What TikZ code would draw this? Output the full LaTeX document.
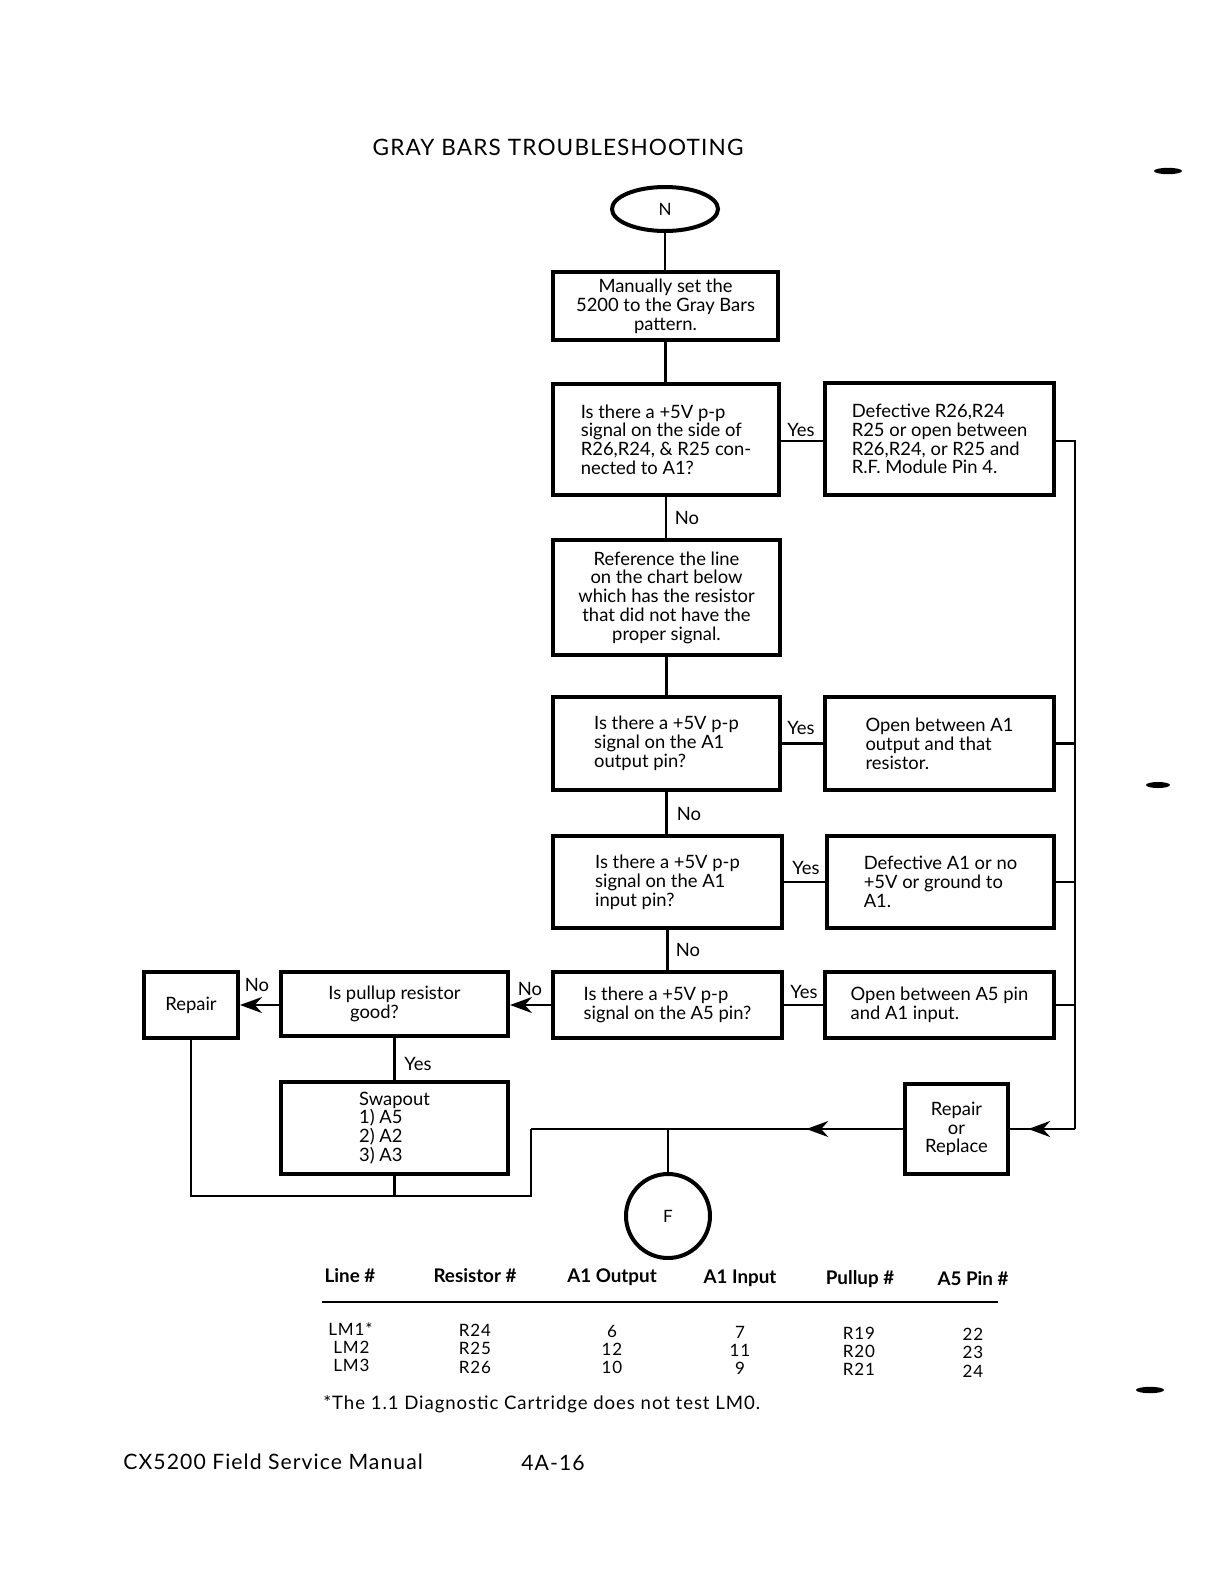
\documentclass[tikz,border=0pt]{standalone}
\usepackage{fontspec}
\setmainfont{Lato}
\newfontfamily\widefont[LetterSpace=5.0]{Lato}
\usetikzlibrary{arrows.meta,decorations.markings,shapes.geometric}
\begin{document}
\begin{tikzpicture}[x=0.5pt,y=-0.5pt,
  box/.style={draw, line width=2pt, inner sep=0pt, align=left, font=\fontsize{9.2}{9.4}\selectfont},
  conn/.style={line width=1.1pt},
  tipst/.style={-{Stealth[length=11pt,width=8pt]}},
  midarr/.style={postaction={decorate}, decoration={markings, mark=at position #1 with {\arrow{Stealth[length=11pt,width=8pt]}}}},
  lbl/.style={font=\fontsize{9.2}{10}\selectfont, inner sep=0pt},
  thead/.style={font=\fontsize{9.4}{10}\selectfont\bfseries, inner sep=0pt},
  tcell/.style={font=\widefont\fontsize{8.5}{10}\selectfont, inner sep=0pt},
  blob/.style={fill=black, draw=none}
]
\useasboundingbox (0,0) rectangle (1218,1570);

% title
\node[inner sep=0pt, font=\widefont\fontsize{11.3}{13}\selectfont] (title) at (558,147) {GRAY BARS TROUBLESHOOTING};

% nodes
\node[draw, ellipse, line width=2pt, minimum width=53pt, minimum height=22pt, inner sep=0pt, font=\fontsize{8.5}{9}\selectfont] (N) at (665,209) {N};
\node[box, align=center, minimum width=112.5pt, minimum height=34pt] (b1) at (665.5,306) {Manually set the\\5200 to the Gray Bars\\pattern.};
\node[box, minimum width=113pt, minimum height=55.5pt] (q1) at (666,439.5) {Is there a +5V p-p\\signal on the side of\\R26,R24, \& R25 con-\\nected to A1?};
\node[box, minimum width=114.5pt, minimum height=56pt] (d1) at (939.5,439) {Defective R26,R24\\R25 or open between\\R26,R24, or R25 and\\R.F. Module Pin 4.};
\node[box, align=center, minimum width=113.5pt, minimum height=57.5pt] (b3) at (666.5,597.5) {Reference the line\\on the chart below\\which has the resistor\\that did not have the\\proper signal.};
\node[box, minimum width=113.5pt, minimum height=46.5pt] (q2) at (666.5,743.5) {Is there a +5V p-p\\signal on the A1\\output pin?};
\node[box, minimum width=114.5pt, minimum height=46.5pt] (d2) at (939.5,743.5) {Open between A1\\output and that\\resistor.\hspace*{10pt}};
\node[box, minimum width=114.5pt, minimum height=46pt] (q3) at (667.5,882) {Is there a +5V p-p\\signal on the A1\\input pin?};
\node[box, minimum width=113.5pt, minimum height=46pt] (d3) at (940.5,882) {Defective A1 or no\\+5V or ground to\\A1.};
\node[box, minimum width=114.5pt, minimum height=33pt] (q4) at (667.5,1005) {Is there a +5V p-p\\signal on the A5 pin?};
\node[box, minimum width=114.5pt, minimum height=33pt] (d4) at (939.5,1005) {Open between A5 pin\\and A1 input.\hspace*{10pt}};
\node[box, align=center, minimum width=113.5pt, minimum height=32pt] (pu) at (394.5,1004) {Is pullup resistor\\good?\hspace*{20pt}};
\node[box, align=center, minimum width=47pt, minimum height=33pt] (rep) at (191,1005) {Repair};
\node[box, minimum width=113.5pt, minimum height=46pt] (sw) at (394.5,1128) {Swapout\\1) A5\\2) A2\\3) A3};
\node[box, align=center, minimum width=51.5pt, minimum height=45pt] (rr) at (956.5,1129) {Repair\\or\\Replace};
\node[draw, circle, line width=2pt, minimum size=42pt, inner sep=0pt, font=\fontsize{8.5}{9}\selectfont] (F) at (668,1216) {F};

% coordinates
\coordinate (bus) at (1075,441);
\coordinate (busEnd) at (1075,1129);
\coordinate (j1) at (531,1129);
\coordinate (j2) at (531,1196);

% vertical main flow
\draw[conn] (N.south) -- (N.south |- b1.north);
\draw[conn] (b1.south) -- (b1.south |- q1.north);
\draw[conn] (q1.south) -- (q1.south |- b3.north);
\draw[conn] (b3.south) -- (b3.south |- q2.north);
\draw[conn] (q2.south) -- (q2.south |- q3.north);
\draw[conn] (q3.south) -- (q3.south |- q4.north);

% yes branches
\draw[conn] (q1.east |- bus) -- (d1.west |- bus);
\draw[conn] (q2.east) -- (q2.east -| d2.west);
\draw[conn] (q3.east) -- (q3.east -| d3.west);
\draw[conn] (q4.east) -- (q4.east -| d4.west);

% right bus
\draw[conn] (d1.east |- bus) -- (bus) -- (busEnd);
\draw[conn] (d2.east) -- (d2.east -| bus);
\draw[conn] (d3.east) -- (d3.east -| bus);
\draw[conn] (d4.east) -- (d4.east -| bus);
\draw[conn, midarr=0.72] (busEnd) -- (rr.east);

% left branch
\draw[conn, tipst] (q4.west) -- (pu.east |- q4.west);
\draw[conn, tipst] (pu.west |- rep.east) -- (rep.east);
\draw[conn] (pu.south) -- (pu.south |- sw.north);

% bottom merge
\draw[conn, midarr=0.26] (rr.west) -- (j1);
\draw[conn] (F.north) -- (F.north |- j1);
\draw[conn] (j1) -- (j2) -- (rep.south |- j2) -- (rep.south);
\draw[conn] (sw.south) -- (sw.south |- j2);

% labels
\node[lbl] (y1) at (801,430) {Yes};
\node[lbl] (y2) at (801,728) {Yes};
\node[lbl] (y3) at (806,868) {Yes};
\node[lbl] (y4) at (804,992) {Yes};
\node[lbl] (n1) at (687,518) {No};
\node[lbl] (n2) at (689,814) {No};
\node[lbl] (n3) at (688,950) {No};
\node[lbl] (n4) at (530,989) {No};
\node[lbl] (n5) at (257,985) {No};
\node[lbl] (y5) at (418,1064) {Yes};

% table
\node[thead] (h1) at (350,1276) {Line \#};
\node[thead] (h2) at (475,1276) {Resistor \#};
\node[thead] (h3) at (612,1277) {A1 Output};
\node[thead] (h4) at (740,1278) {A1 Input};
\node[thead] (h5) at (860,1279) {Pullup \#};
\node[thead] (h6) at (973,1279) {A5 Pin \#};
\draw[line width=1.4pt] (322,1302) -- (998,1302);

\node[tcell, anchor=west] (c11) at (328,1329) {LM1*};
\node[tcell, anchor=west] (c12) at (333,1347) {LM2};
\node[tcell, anchor=west] (c13) at (333,1365) {LM3};
\node[tcell] (c21) at (475,1330) {R24};
\node[tcell] (c22) at (475,1348) {R25};
\node[tcell] (c23) at (475,1367) {R26};
\node[tcell] (c31) at (612,1331) {6};
\node[tcell] (c32) at (612,1349) {12};
\node[tcell] (c33) at (612,1367) {10};
\node[tcell] (c41) at (740,1332) {7};
\node[tcell] (c42) at (740,1350) {11};
\node[tcell] (c43) at (740,1368) {9};
\node[tcell] (c51) at (859,1333) {R19};
\node[tcell] (c52) at (859,1351) {R20};
\node[tcell] (c53) at (859,1369) {R21};
\node[tcell] (c61) at (973,1334) {22};
\node[tcell] (c62) at (973,1352) {23};
\node[tcell] (c63) at (973,1371) {24};

\node[tcell, anchor=west, font=\widefont\fontsize{9.3}{10}\selectfont] (foot) at (323,1404) {*The 1.1 Diagnostic Cartridge does not test LM0.};

% footer
\node[inner sep=0pt, anchor=west, font=\widefont\fontsize{10.6}{12}\selectfont] (manual) at (123,1462) {CX5200 Field Service Manual};
\node[inner sep=0pt, font=\widefont\fontsize{10.6}{12}\selectfont] (page) at (553,1463) {4A-16};

% scan marks
\fill[blob] (1168,171) ellipse (7pt and 1.6pt);
\fill[blob] (1158,785) ellipse (6pt and 1.5pt);
\fill[blob] (1150,1390) ellipse (7pt and 1.6pt);
\end{tikzpicture}
\end{document}
